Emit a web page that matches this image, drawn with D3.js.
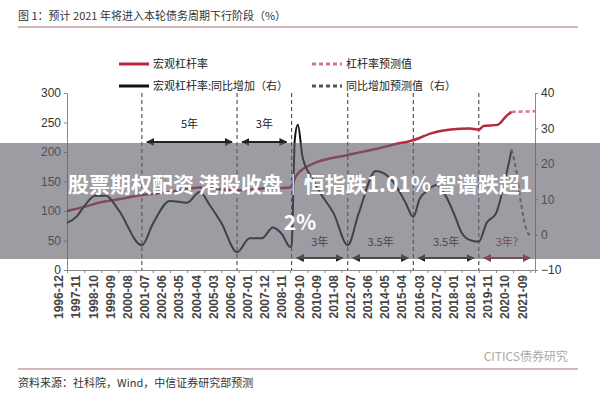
<!DOCTYPE html>
<html><head><meta charset="utf-8">
<script src="https://cdn.jsdelivr.net/npm/d3@7"></script>
<style>body{margin:0;background:#fff}svg{font-family:"Noto Sans CJK SC","Noto Sans",sans-serif}</style>
</head><body><svg id="chart" width="600" height="400"></svg>
<script>
// leverage ratio (left axis)
const levDates = ["1996-12","1997-11","1998-10","1999-09","2000-12","2002-06","2004-01","2005-03","2006-01","2007-05","2008-11","2009-03","2009-12","2011-12","2013-06","2014-06","2015-06","2016-06","2017-06","2018-06","2018-12","2019-03","2019-12","2020-06","2020-09"];
const levValues = [100,107,115,120,127,132,140,137,135,138,140,160,178,195,205,213,220,232,238,240,238,244,246,262,268];
const levFcDates = ["2020-09","2021-12"];
const levFcValues = [268,269];
// YoY change (right axis)
const yoyDates = ["1996-12","1997-06","1997-11","1998-06","1999-01","1999-09","2000-12","2001-07","2002-06","2003-05","2004-01","2004-08","2005-03","2006-01","2006-09","2007-05","2007-12","2008-06","2008-11","2008-12","2009-02","2009-04","2009-07","2010-01","2010-06","2011-03","2011-12","2012-07","2013-06","2014-05","2015-01","2015-06","2015-10","2016-03","2016-09","2017-02","2017-08","2018-01","2018-06","2018-12","2019-05","2019-11","2020-03","2020-09"];
const yoyValues = [3.3,5,8,11,11,7,-3,3,9.5,9,12,8,3.3,-5,-1,-1,2,0,-3.5,-3,27,31,22,16,12,6,-3,6,18,15,9,5,10,12.5,14,11.5,6,0.5,-1.5,-2,3.3,6,12,24];
const yoyFcDates = ["2020-09","2020-12","2021-03","2021-06","2021-09"];
const yoyFcValues = [24,18,9,2.2,-0.5];
const tickLabels = ["1996-12","1997-11","1998-10","1999-09","2000-08","2001-07","2002-06","2003-05","2004-04","2005-03","2006-02","2007-01","2007-12","2008-11","2009-10","2010-09","2011-08","2012-07","2013-06","2014-05","2015-04","2016-03","2017-02","2018-01","2018-12","2019-11","2020-10","2021-09"];
const phaseDates = ["2000-12","2006-01","2008-12","2011-12","2015-06","2018-12"];
const upperSpans = [["2000-12","2006-01","5年"],["2006-01","2008-12","3年"]];
const lowerSpans = [["2008-12","2011-12","3年"],["2011-12","2015-06","3.5年"],["2015-06","2018-12","3.5年"],["2018-12","2021-12","3年?"]];

const P = d3.timeParse("%Y-%m");
const svg = d3.select("#chart");
const x = d3.scaleTime().domain([P("1996-12"), P("2021-12")]).range([67, 535]);
const yL = d3.scaleLinear().domain([0,300]).range([270,93]);
const yR = d3.scaleLinear().domain([-10,40]).range([270,93]);
const red = "#b5293a", pink = "#d9748a";

svg.append("text").attr("x",18).attr("y",20).attr("font-size",11).attr("fill","#333").text("图 1：预计 2021 年将进入本轮债务周期下行阶段（%）");
svg.append("line").attr("x1",18).attr("x2",578).attr("y1",27).attr("y2",27).attr("stroke","#c9a0a0").attr("stroke-width",1.5);

// legend
const leg = [[119,64,red,null,"宏观杠杆率"],[312,64,pink,"4,3","杠杆率预测值"],[119,86,"#111",null,"宏观杠杆率:同比增加（右）"],[312,86,"#555","4,3","同比增加预测值（右）"]];
leg.forEach(l => {
  svg.append("line").attr("x1",l[0]).attr("x2",l[0]+30).attr("y1",l[1]).attr("y2",l[1]).attr("stroke",l[2]).attr("stroke-width",3).attr("stroke-dasharray",l[3]);
  svg.append("text").attr("x",l[0]+34).attr("y",l[1]+4).attr("font-size",11).attr("fill","#222").text(l[4]);
});

// axes
const gL = svg.append("g").attr("transform","translate(67,0)").call(d3.axisLeft(yL).tickValues([0,50,100,150,200,250,300]).tickSize(3));
const gR = svg.append("g").attr("transform","translate(535,0)").call(d3.axisRight(yR).tickValues([-10,0,10,20,30,40]).tickSize(3));
const gX = svg.append("g").attr("transform","translate(0,270)").call(d3.axisBottom(x).tickValues(tickLabels.map(P)).tickFormat(d3.timeFormat("%Y-%m")).tickSize(3));
[gL,gR,gX].forEach(g => { g.selectAll("path,line").attr("stroke","#888"); g.selectAll("text").attr("fill","#333").attr("font-size",12).attr("font-family","Liberation Sans, sans-serif"); });
gX.selectAll("text").attr("transform","rotate(-90)").attr("text-anchor","end").attr("dx","-5").attr("dy","-0.35em").attr("x",0).attr("y",0).attr("font-size",12).attr("font-weight","bold").attr("fill","#444");

// phase lines
svg.selectAll(".ph").data(phaseDates).join("line").attr("x1",d=>x(P(d))).attr("x2",d=>x(P(d))).attr("y1",93).attr("y2",270).attr("stroke","#333").attr("stroke-dasharray","4,3");

// lines
const lineL = d3.line().x(d=>x(P(d[0]))).y(d=>yL(d[1])).curve(d3.curveMonotoneX);
const lineR = d3.line().x(d=>x(P(d[0]))).y(d=>yR(d[1])).curve(d3.curveMonotoneX);
svg.append("path").attr("d",lineL(d3.zip(levDates,levValues))).attr("fill","none").attr("stroke",red).attr("stroke-width",2.5);
svg.append("path").attr("d",lineL(d3.zip(levFcDates,levFcValues))).attr("fill","none").attr("stroke",pink).attr("stroke-width",2.5).attr("stroke-dasharray","4,3");
svg.append("path").attr("d",lineR(d3.zip(yoyDates,yoyValues))).attr("fill","none").attr("stroke","#111").attr("stroke-width",2);
svg.append("path").attr("d",lineR(d3.zip(yoyFcDates,yoyFcValues))).attr("fill","none").attr("stroke","#666").attr("stroke-width",2).attr("stroke-dasharray","4,3");

// arrows
const defs = svg.append("defs");
["#222",red].forEach((c,i)=>{
  defs.append("marker").attr("id","ah"+i).attr("viewBox","0 0 10 10").attr("refX",9).attr("refY",5).attr("markerWidth",4).attr("markerHeight",4).attr("orient","auto-start-reverse").append("path").attr("d","M0,0L10,5L0,10z").attr("fill",c);
});
function spans(arr, yA, yT){
  arr.forEach(s => {
    const a = x(P(s[0]))+5, b = x(P(s[1]))-5, c = s[2].includes("?") ? 1 : 0;
    const col = c ? "#a0303e" : "#222";
    svg.append("line").attr("x1",a).attr("x2",b).attr("y1",yA).attr("y2",yA).attr("stroke",col).attr("stroke-width",2).attr("marker-start","url(#ah"+c+")").attr("marker-end","url(#ah"+c+")");
    svg.append("text").attr("x",(a+b)/2).attr("y",yT).attr("text-anchor","middle").attr("font-size",11).attr("fill",col).text(s[2]);
  });
}
spans(upperSpans,142,128);
spans(lowerSpans,258,246);

// footer
svg.append("text").attr("x",568).attr("y",361).attr("text-anchor","end").attr("font-size",12).attr("fill","#aaa").text("CITICS债券研究");
svg.append("line").attr("x1",18).attr("x2",578).attr("y1",369).attr("y2",369).attr("stroke","#c9a0a0").attr("stroke-width",1.5);
svg.append("text").attr("x",18).attr("y",387).attr("font-size",11).attr("fill","#333").text("资料来源：社科院，Wind，中信证券研究部预测");

// overlay banner
svg.append("rect").attr("x",0).attr("y",143).attr("width",600).attr("height",116).attr("fill","rgba(95,95,105,0.62)");
svg.append("text").attr("x",300).attr("y",192).attr("text-anchor","middle").attr("font-size",21).attr("font-weight","bold").attr("fill","#fff").text("股票期权配资 港股收盘｜恒指跌1.01% 智谱跌超1");
svg.append("text").attr("x",300).attr("y",230).attr("text-anchor","middle").attr("font-size",21).attr("font-weight","bold").attr("fill","#fff").text("2%");
</script></body></html>
